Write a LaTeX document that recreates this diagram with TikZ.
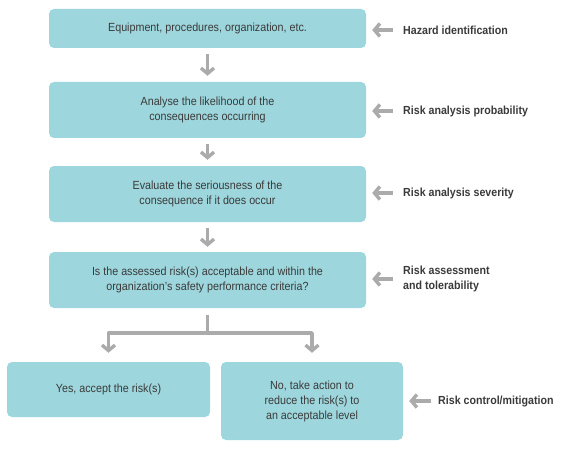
\documentclass[tikz,border=0pt]{standalone}
\usepackage{fontspec}
\setmainfont[FakeStretch=0.91]{Liberation Sans}
\usetikzlibrary{arrows.meta}
\definecolor{boxfill}{HTML}{9DD6DC}
\definecolor{flowgray}{HTML}{ABABAB}
\definecolor{inkgray}{HTML}{3A3A3A}
\begin{document}
\begin{tikzpicture}[x=1pt,y=-1pt,
  box/.style={rectangle, rounded corners=5pt, fill=boxfill, inner sep=0pt,
    align=center, text=inkgray, font=\fontsize{11.8}{15}\selectfont},
  flow/.style={draw=flowgray, line width=3.6pt, line join=round,
    -{Straight Barb[length=5.5pt,width=13pt,line width=3.4pt]}},
  tag/.style={anchor=west, inner sep=0pt, align=left, text=inkgray,
    font=\fontsize{11.7}{15}\selectfont\bfseries}]
\useasboundingbox (0,0) rectangle (561,449);
\node[box, minimum width=317pt, minimum height=39pt] (box1) at (207.5,28.5){Equipment, procedures, organization, etc.};
\node[box, minimum width=317pt, minimum height=56pt] (box2) at (207.5,110){Analyse the likelihood of the\\consequences occurring};
\node[box, minimum width=317pt, minimum height=56pt] (box3) at (207.5,194){Evaluate the seriousness of the\\consequence if it does occur};
\node[box, minimum width=317pt, minimum height=56pt] (box4) at (207.5,280){Is the assessed risk(s) acceptable and within the\\organization's safety performance criteria?};
\node[box, minimum width=203pt, minimum height=55pt] (yesbox) at (108.5,389.5){Yes, accept the risk(s)};
\node[box, minimum width=182pt, minimum height=78pt] (nobox) at (312,401){No, take action to\\reduce the risk(s) to\\an acceptable level};
\draw[flow, shorten <=6pt, shorten >=6pt] (box1) -- (box2);
\draw[flow, shorten <=6pt, shorten >=6pt] (box2) -- (box3);
\draw[flow, shorten <=6pt, shorten >=5pt] (box3) -- (box4);
\coordinate (split) at (207.5,333);
\draw[draw=flowgray, line width=3.6pt, shorten <=7pt] (box4.south) -- (split);
\draw[flow, shorten >=9pt] (split) -| (yesbox.north);
\draw[flow, shorten >=9pt] (split) -| (nobox.north);
\node[tag] (hazard) at (403,30){Hazard identification};
\node[tag] (prob) at (403,111){Risk analysis probability};
\node[tag] (sever) at (403,193){Risk analysis severity};
\node[tag] (toler) at (403,279){Risk assessment\\and tolerability};
\node[tag] (mitig) at (438,401){Risk control/mitigation};
\draw[flow, shorten <=10pt, shorten >=6pt] (hazard.west) -- (hazard.west -| box1.east);
\draw[flow, shorten <=10pt, shorten >=6pt] (prob.west) -- (prob.west -| box2.east);
\draw[flow, shorten <=10pt, shorten >=6pt] (sever.west) -- (sever.west -| box3.east);
\draw[flow, shorten <=10pt, shorten >=6pt] (toler.west) -- (toler.west -| box4.east);
\draw[flow, shorten <=7pt, shorten >=6pt] (mitig.west) -- (mitig.west -| nobox.east);
\end{tikzpicture}
\end{document}
